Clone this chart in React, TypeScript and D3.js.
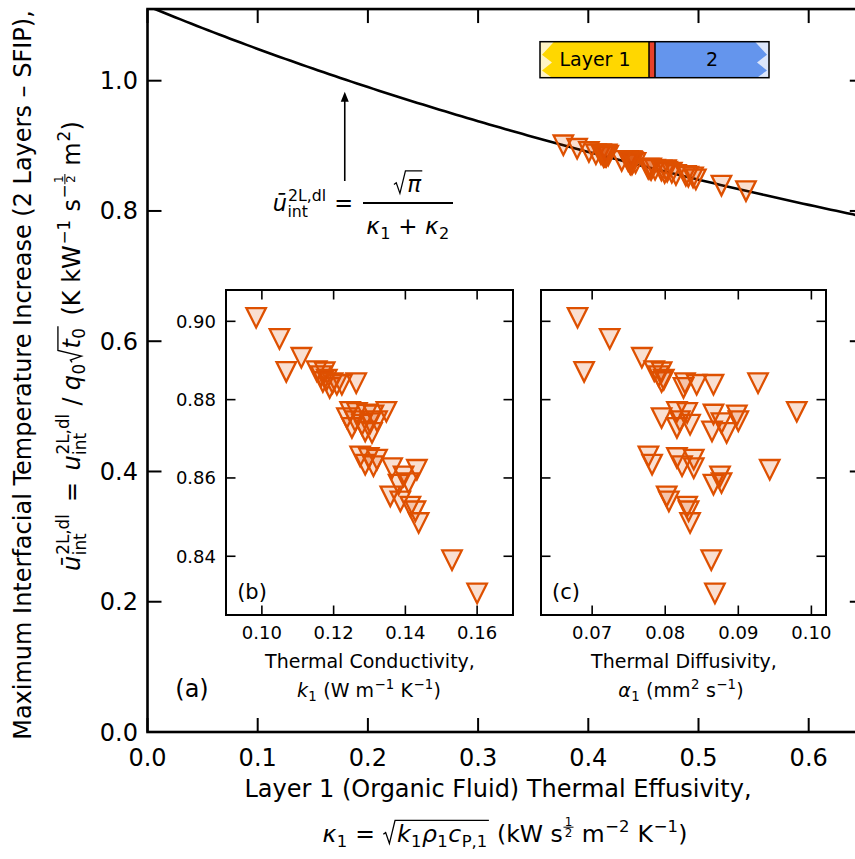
import React from 'react';
import * as d3 from 'd3';

const FONT = '"DejaVu Sans", sans-serif';
const ORANGE = '#DE5000';

// ---------------- data ----------------
const kappa2 = 1.59; // layer 2 effusivity used for the reference curve
const k1Values = [
  0.0984, 0.1049, 0.111, 0.1068,
  0.1153, 0.1165, 0.117, 0.1175, 0.1181, 0.1189, 0.1197, 0.1209, 0.1223, 0.1263,
  0.1237, 0.1246, 0.1251, 0.126, 0.1265, 0.1279, 0.1288, 0.1293, 0.1302, 0.1307, 0.1311, 0.1321, 0.1347,
  0.1274, 0.1288, 0.1298, 0.1311, 0.1321, 0.1363, 0.1381, 0.1395, 0.1409, 0.1432,
  0.1358, 0.1386, 0.1414, 0.1428, 0.1437,
  0.153, 0.16,
];
const alpha1Values = [
  0.068, 0.0724, 0.0768, 0.0689,
  0.0785, 0.0791, 0.0795, 0.0795, 0.0798, 0.0825, 0.0827, 0.0843, 0.0866, 0.0927,
  0.0795, 0.0816, 0.0816, 0.082, 0.083, 0.0834, 0.0864, 0.0866, 0.0877, 0.0884, 0.0898, 0.09, 0.098,
  0.0777, 0.0782, 0.0816, 0.0823, 0.0839, 0.0839, 0.0866, 0.0875, 0.0877, 0.0943,
  0.0802, 0.0805, 0.083, 0.0832, 0.0834,
  0.0863, 0.0868,
];
const uValues = [
  0.9009, 0.8955, 0.8907, 0.8871,
  0.8873, 0.886, 0.8845, 0.887, 0.8851, 0.883, 0.8842, 0.8838, 0.8838, 0.8842,
  0.8753, 0.8769, 0.8728, 0.8745, 0.8766, 0.8736, 0.8719, 0.8762, 0.874, 0.8715, 0.876, 0.8745, 0.8769,
  0.8655, 0.8634, 0.8651, 0.863, 0.8647, 0.8625, 0.8583, 0.8604, 0.8587, 0.8621,
  0.8553, 0.854, 0.8527, 0.8515, 0.8485,
  0.839, 0.8305,
];
const mainXTicks = [0, 0.1, 0.2, 0.3, 0.4, 0.5, 0.6];
const mainYTicks = [0, 0.2, 0.4, 0.6, 0.8, 1.0];
const kTicks = [0.1, 0.12, 0.14, 0.16];
const alphaTicks = [0.07, 0.08, 0.09, 0.1];
const uTicks = [0.84, 0.86, 0.88, 0.9];

// effusivity kW s^1/2 m^-2 K^-1 from k (W/m/K) and alpha (mm^2/s)
const kappa1Values = k1Values.map((k, i) => k / Math.sqrt(alpha1Values[i] * 1e-6) / 1000);

// ---------------- scales ----------------
const xMain = d3.scaleLinear().domain([0, 0.65]).range([147.5, 147.5 + 0.65 * 1102]);
const yMain = d3.scaleLinear().domain([0, 1.11]).range([732, 732 - 1.11 * 651.3]);
const xB = d3.scaleLinear().domain([0.09, 0.17]).range([226, 513]);
const xC = d3.scaleLinear().domain([0.063, 0.102]).range([541, 826]);
const yIn = d3.scaleLinear().domain([0.825, 0.908]).range([615, 290]);

// ---------------- rich text ----------------
let _ctx: any = null;
function measure(s: string, size: number, it = false) {
  if (!_ctx) _ctx = document.createElement('canvas').getContext('2d');
  _ctx.font = `${it ? 'italic ' : ''}${size}px ${FONT}`;
  return _ctx.measureText(s).width;
}
const T = (s: string, it = false) => ({ k: 't', s, it });
const SUP = (...c: any[]) => ({ k: 'sup', c });
const SUB = (...c: any[]) => ({ k: 'sub', c });
const SS = (sup: any[], sub: any[]) => ({ k: 'ss', sup, sub });
const SQRT = (...c: any[]) => ({ k: 'sqrt', c });
const FRAC = (n: string, d: string) => ({ k: 'frac', n, d });
const SP = (w: number) => ({ k: 'sp', w });

function layout(toks: any[], size: number, x0: number, shift: number, out: any[]): number {
  let x = x0;
  for (const tk of toks) {
    if (tk.k === 't') {
      out.push(
        <text key={out.length} x={x} y={shift} fontSize={size} fontStyle={tk.it ? 'italic' : 'normal'} style={{ whiteSpace: 'pre' }}>
          {tk.s}
        </text>
      );
      x += measure(tk.s, size, tk.it);
    } else if (tk.k === 'sp') {
      x += tk.w * size;
    } else if (tk.k === 'sup') {
      x += layout(tk.c, size * 0.7, x + size * 0.03, shift - size * 0.42, out) + size * 0.05;
    } else if (tk.k === 'sub') {
      x += layout(tk.c, size * 0.7, x + size * 0.02, shift + size * 0.22, out) + size * 0.04;
    } else if (tk.k === 'ss') {
      const a = layout(tk.sup, size * 0.7, x + size * 0.04, shift - size * 0.45, out);
      const b = layout(tk.sub, size * 0.7, x + size * 0.02, shift + size * 0.26, out);
      x += Math.max(a, b) + size * 0.08;
    } else if (tk.k === 'sqrt') {
      const r = size * 0.62;
      const inner = layout(tk.c, size, x + r, shift, out);
      const top = shift - size * 0.92;
      const d = `M${x + size * 0.04},${shift - size * 0.33} L${x + size * 0.14},${shift - size * 0.4} L${x + size * 0.3},${shift + size * 0.06} L${x + size * 0.54},${top} L${x + r + inner + size * 0.05},${top}`;
      out.push(<path key={out.length} d={d} fill="none" stroke="#000" strokeWidth={size * 0.055} strokeLinejoin="miter" />);
      x += r + inner + size * 0.08;
    } else if (tk.k === 'frac') {
      const fs = size * 0.72;
      const wn = measure(tk.n, fs);
      const wd = measure(tk.d, fs);
      const w = Math.max(wn, wd) + size * 0.15;
      const bar = shift - size * 0.3;
      out.push(<line key={out.length} x1={x} x2={x + w} y1={bar} y2={bar} stroke="#000" strokeWidth={size * 0.06} />);
      out.push(<text key={out.length} x={x + w / 2} y={bar - size * 0.1} fontSize={fs} textAnchor="middle">{tk.n}</text>);
      out.push(<text key={out.length} x={x + w / 2} y={bar + size * 0.1 + fs * 0.72} fontSize={fs} textAnchor="middle">{tk.d}</text>);
      x += w + size * 0.02;
    }
  }
  return x - x0;
}

function Rich({ toks, size, x, y, anchor = 'middle', rotate = 0 }: any) {
  const out: any[] = [];
  const w = layout(toks, size, 0, 0, out);
  const dx = anchor === 'middle' ? -w / 2 : anchor === 'end' ? -w : 0;
  return (
    <g transform={`translate(${x},${y}) rotate(${rotate}) translate(${dx},0)`}>{out}</g>
  );
}

const tri = (s: number) => `M${-s / 2},${-s / 2}L${s / 2},${-s / 2}L0,${s / 2}Z`;

function Frame({ x0, x1, y0, y1, xt, yt, len, sw, tw }: any) {
  return (
    <g stroke="#000">
      <rect x={x0} y={y0} width={x1 - x0} height={y1 - y0} fill="#fff" stroke="none" />
      {xt.map((v: number, i: number) => (
        <g key={'x' + i} strokeWidth={tw}>
          <line x1={v} x2={v} y1={y1} y2={y1 - len} />
          <line x1={v} x2={v} y1={y0} y2={y0 + len} />
        </g>
      ))}
      {yt.map((v: number, i: number) => (
        <g key={'y' + i} strokeWidth={tw}>
          <line x1={x0} x2={x0 + len} y1={v} y2={v} />
          <line x1={x1} x2={x1 - len} y1={v} y2={v} />
        </g>
      ))}
      <rect x={x0} y={y0} width={x1 - x0} height={y1 - y0} fill="none" strokeWidth={sw} />
    </g>
  );
}

export default function App() {
  const curve = d3
    .line<number>()
    .x((k) => xMain(k))
    .y((k) => yMain(Math.sqrt(Math.PI) / (k + kappa2)))(d3.range(0, 0.6501, 0.005));

  const yLabel1 = [T('Maximum Interfacial Temperature Increase (2 Layers – SFIP),')];
  const yLabel2 = [
    T('ū', true), SS([T('2L,dl')], [T('int')]), SP(0.15), T(' = '), SP(0.15), T('u', true), SS([T('2L,dl')], [T('int')]),
    SP(0.3), T('/'), SP(0.3), T('q', true), SUB(T('0')), SQRT(T('t', true), SUB(T('0'))),
    SP(0.1), T(' (K kW'), SUP(T('−1')), T(' s'), SUP(T('−'), FRAC('1', '2')), T(' m'), SUP(T('2')), T(')'),
  ];
  const xLabel1 = [T('Layer 1 (Organic Fluid) Thermal Effusivity,')];
  const xLabel2 = [
    T('κ', true), SUB(T('1')), T(' = '),
    SQRT(T('k', true), SUB(T('1')), T('ρ', true), SUB(T('1')), T('c', true), SUB(T('P,1'))),
    T(' (kW s'), SUP(FRAC('1', '2')), T(' m'), SUP(T('−2')), T(' K'), SUP(T('−1')), T(')'),
  ];
  const bLabel2 = [T('k', true), SUB(T('1')), T(' (W m'), SUP(T('−1')), T(' K'), SUP(T('−1')), T(')')];
  const cLabel2 = [T('α', true), SUB(T('1')), T(' (mm'), SUP(T('2')), T(' s'), SUP(T('−1')), T(')')];

  const lx = 540, ly = 41.7, lw = 229, lh = 36;
  const xr = 649, xb = 655;
  const zzL = `M${lx + 14},${ly} L${xr},${ly} L${xr},${ly + lh} L${lx + 12},${ly + lh} L${lx + 2},${ly + lh * 0.8} L${lx + 12},${ly + lh * 0.58} L${lx + 2},${ly + lh * 0.36} Z`;
  const rx = lx + lw;
  const zzR = `M${rx - 14},${ly} L${xb},${ly} L${xb},${ly + lh} L${rx - 12},${ly + lh} L${rx - 2},${ly + lh * 0.8} L${rx - 12},${ly + lh * 0.58} L${rx - 2},${ly + lh * 0.36} Z`;

  const ax = xMain(0.179);
  const ayTail = yMain(0.846);
  const ayTip = yMain(0.983);

  return (
    <svg width={855} height={859} style={{ position: 'absolute', left: 0, top: 0, background: '#fff' }} fontFamily={FONT} fill="#000">
      <defs>
        <clipPath id="mainclip">
          <rect x={xMain(0)} y={yMain(1.11)} width={xMain(0.65) - xMain(0)} height={yMain(0) - yMain(1.11)} />
        </clipPath>
      </defs>
      {/* main frame */}
      <Frame
        x0={xMain(0)} x1={xMain(0.65)} y0={yMain(1.11)} y1={yMain(0)}
        xt={mainXTicks.map((v) => xMain(v))} yt={mainYTicks.map((v) => yMain(v))}
        len={14} sw={2.6} tw={2}
      />
      <path d={curve || ''} fill="none" stroke="#000" strokeWidth={2.6} clipPath="url(#mainclip)" />
      {kappa1Values.map((k, i) => (
        <path key={i} d={tri(19.5)} transform={`translate(${xMain(k)},${yMain(uValues[i])})`} fill={ORANGE} fillOpacity={0.18} stroke={ORANGE} strokeWidth={2.3} />
      ))}
      {mainXTicks.map((v, i) => (
        <text key={i} x={xMain(v)} y={766} fontSize={24} textAnchor="middle">{v.toFixed(1)}</text>
      ))}
      {mainYTicks.map((v, i) => (
        <text key={i} x={138} y={yMain(v) + 8.5} fontSize={24} textAnchor="end">{v.toFixed(1)}</text>
      ))}
      <Rich toks={xLabel1} size={24} x={498} y={797} />
      <Rich toks={xLabel2} size={23.5} x={505} y={842} />
      <Rich toks={yLabel1} size={24} x={31} y={375} rotate={-90} />
      <Rich toks={yLabel2} size={24} x={80} y={346} rotate={-90} />

      {/* legend bar */}
      <rect x={lx} y={ly} width={xr - lx} height={lh} fill="#FFF4C4" />
      <path d={zzL} fill="#FFD700" />
      <rect x={xb} y={ly} width={rx - xb} height={lh} fill="#DCE6FB" />
      <path d={zzR} fill="#6495ED" />
      <rect x={xr} y={ly} width={xb - xr} height={lh} fill="#E8412A" />
      <line x1={xr} x2={xr} y1={ly} y2={ly + lh} stroke="#000" strokeWidth={1.5} />
      <line x1={xb} x2={xb} y1={ly} y2={ly + lh} stroke="#000" strokeWidth={1.5} />
      <rect x={lx} y={ly} width={lw} height={lh} fill="none" stroke="#000" strokeWidth={1.5} />
      <text x={595} y={66} fontSize={19} textAnchor="middle">Layer 1</text>
      <text x={712} y={66} fontSize={19} textAnchor="middle">2</text>

      {/* annotation */}
      <line x1={ax} x2={ax} y1={ayTail} y2={ayTip + 8} stroke="#000" strokeWidth={1.6} />
      <path d={`M${ax},${ayTip} L${ax - 4},${ayTip + 10} L${ax + 4},${ayTip + 10} Z`} fill="#000" />
      <Rich toks={[T('ū', true), SS([T('2L,dl')], [T('int')]), T(' =')]} size={22.5} x={353} y={211} anchor="end" />
      <line x1={363} x2={453} y1={203} y2={203} stroke="#000" strokeWidth={1.8} />
      <Rich toks={[SQRT(T('π', true))]} size={23} x={408} y={192} />
      <Rich toks={[T('κ', true), SUB(T('1')), T(' + '), T('κ', true), SUB(T('2'))]} size={23} x={408} y={234} />

      {/* inset b */}
      <Frame x0={226} x1={513} y0={290} y1={615} xt={kTicks.map((v) => xB(v))} yt={uTicks.map((v) => yIn(v))} len={9.5} sw={2} tw={1.6} />
      {k1Values.map((k, i) => (
        <path key={i} d={tri(19.5)} transform={`translate(${xB(k)},${yIn(uValues[i])})`} fill={ORANGE} fillOpacity={0.18} stroke={ORANGE} strokeWidth={2.3} />
      ))}
      {kTicks.map((v, i) => (
        <text key={i} x={xB(v)} y={639} fontSize={18} textAnchor="middle">{v.toFixed(2)}</text>
      ))}
      {uTicks.map((v, i) => (
        <text key={i} x={216} y={yIn(v) + 6.5} fontSize={18} textAnchor="end">{v.toFixed(2)}</text>
      ))}
      <text x={252} y={599} fontSize={21} textAnchor="middle">(b)</text>
      <Rich toks={[T('Thermal Conductivity,')]} size={19} x={370} y={668} />
      <Rich toks={bLabel2} size={19} x={369} y={697} />

      {/* inset c */}
      <Frame x0={541} x1={826} y0={290} y1={615} xt={alphaTicks.map((v) => xC(v))} yt={uTicks.map((v) => yIn(v))} len={9.5} sw={2} tw={1.6} />
      {alpha1Values.map((a, i) => (
        <path key={i} d={tri(19.5)} transform={`translate(${xC(a)},${yIn(uValues[i])})`} fill={ORANGE} fillOpacity={0.18} stroke={ORANGE} strokeWidth={2.3} />
      ))}
      {alphaTicks.map((v, i) => (
        <text key={i} x={xC(v)} y={639} fontSize={18} textAnchor="middle">{v.toFixed(2)}</text>
      ))}
      <text x={566} y={599} fontSize={21} textAnchor="middle">(c)</text>
      <Rich toks={[T('Thermal Diffusivity,')]} size={19} x={684} y={668} />
      <Rich toks={cLabel2} size={19} x={681} y={697} />

      <text x={192} y={697} fontSize={24} textAnchor="middle">(a)</text>
    </svg>
  );
}
